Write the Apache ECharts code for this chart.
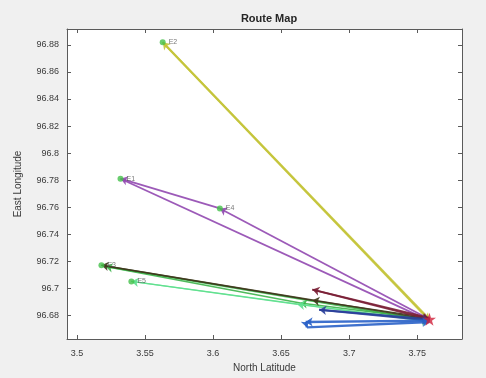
<!DOCTYPE html>
<html>
<head>
<meta charset="utf-8">
<script src="https://cdn.jsdelivr.net/npm/echarts@6/dist/echarts.min.js"></script>
<style>html,body{margin:0;padding:0;background:#f0f0f0;}#c{width:486px;height:378px;}</style>
</head>
<body>
<div id="c"></div>
<script>
// ---- data ----
const xTicks = [3.5, 3.55, 3.6, 3.65, 3.7, 3.75];
const xTickLabels = ['3.5', '3.55', '3.6', '3.65', '3.7', '3.75'];
const yTicks = [96.68, 96.7, 96.72, 96.74, 96.76, 96.78, 96.8, 96.82, 96.84, 96.86, 96.88];
const yTickLabels = ['96.68', '96.7', '96.72', '96.74', '96.76', '96.78', '96.8', '96.82', '96.84', '96.86', '96.88'];
const hub = [3.759, 96.677];
const routeYellow = [[3.759, 96.677], [3.563, 96.882], [3.759, 96.676]];
const routePurple = [[3.759, 96.677], [3.605, 96.759], [3.532, 96.781], [3.759, 96.676]];
const routeDark = [[3.759, 96.678], [3.673, 96.691], [3.518, 96.717], [3.759, 96.677]];
const routeGreen = [[3.759, 96.677], [3.664, 96.689], [3.521, 96.716], [3.759, 96.676]];
const routeLightGreen = [[3.759, 96.676], [3.662, 96.688], [3.540, 96.705], [3.759, 96.675]];
const routeMaroon = [[3.759, 96.678], [3.673, 96.699], [3.759, 96.677]];
const routeNavy = [[3.759, 96.677], [3.678, 96.684], [3.759, 96.676]];
const routeBlue = [[3.759, 96.676], [3.668, 96.675], [3.669, 96.671], [3.759, 96.675]];
const stopNames = ['E2', 'E4', 'E1', 'E3', 'E5'];
const stopPoints = [[3.563, 96.882], [3.605, 96.759], [3.532, 96.781], [3.518, 96.717], [3.540, 96.705]];

const xMin = 3.4927, xMax = 3.7829, yMin = 96.6624, yMax = 96.8918;

function segs(route) {
  const out = [];
  for (let i = 0; i < route.length - 1; i++) out.push({coords: [route[i], route[i + 1]]});
  return out;
}
function lineSeries(route, color, w) {
  return {
    type: 'lines', coordinateSystem: 'cartesian2d', xAxisIndex: 0, yAxisIndex: 0,
    symbol: ['none', 'arrow'], symbolSize: 7,
    lineStyle: {color: color, width: w || 1.5, opacity: 0.9, curveness: 0},
    data: segs(route), silent: true
  };
}
const starPath = 'path://M50,0 L61.8,35.4 L100,35.4 L69.1,57.3 L80.9,92.7 L50,70.8 L19.1,92.7 L30.9,57.3 L0,35.4 L38.2,35.4 Z';

const chart = echarts.init(document.getElementById('c'));
const axisCol = '#5a5a5a';
const labelCol = '#3a3a3a';
chart.setOption({
  backgroundColor: '#f0f0f0',
  animation: false,
  title: {
    text: 'Route Map', left: 264, top: 8, textAlign: 'center',
    textStyle: {fontFamily: 'Liberation Sans', fontSize: 11, fontWeight: 'bold', color: '#262626'}
  },
  grid: {left: 67, right: 24, top: 29, bottom: 37, show: true, backgroundColor: '#ffffff', borderWidth: 0},
  xAxis: [{
    type: 'value', min: xMin, max: xMax, position: 'bottom',
    name: 'North Latitude', nameLocation: 'middle', nameGap: 24,
    nameTextStyle: {fontFamily: 'Liberation Sans', fontSize: 10, color: labelCol},
    axisLine: {show: true, lineStyle: {color: axisCol}},
    axisTick: {show: true, inside: true, length: 4, customValues: xTicks, lineStyle: {color: axisCol}},
    axisLabel: {customValues: xTicks, margin: 10, fontFamily: 'Liberation Sans', fontSize: 9, color: labelCol,
      formatter: v => { const i = xTicks.findIndex(t => Math.abs(t - v) < 1e-6); return i >= 0 ? xTickLabels[i] : ''; }},
    splitLine: {show: false}
  }, {
    type: 'value', min: xMin, max: xMax, position: 'top',
    axisLine: {show: true, lineStyle: {color: axisCol}},
    axisTick: {show: true, inside: true, length: 4, customValues: xTicks, lineStyle: {color: axisCol}},
    axisLabel: {show: false}, splitLine: {show: false}
  }],
  yAxis: [{
    type: 'value', min: yMin, max: yMax, position: 'left',
    name: 'East Longitude', nameLocation: 'middle', nameGap: 44,
    nameTextStyle: {fontFamily: 'Liberation Sans', fontSize: 10, color: labelCol},
    axisLine: {show: true, lineStyle: {color: axisCol}},
    axisTick: {show: true, inside: true, length: 4, customValues: yTicks, lineStyle: {color: axisCol}},
    axisLabel: {customValues: yTicks, margin: 8, fontFamily: 'Liberation Sans', fontSize: 9, color: labelCol,
      formatter: v => { const i = yTicks.findIndex(t => Math.abs(t - v) < 1e-6); return i >= 0 ? yTickLabels[i] : ''; }},
    splitLine: {show: false}
  }, {
    type: 'value', min: yMin, max: yMax, position: 'right',
    axisLine: {show: true, lineStyle: {color: axisCol}},
    axisTick: {show: true, inside: true, length: 4, customValues: yTicks, lineStyle: {color: axisCol}},
    axisLabel: {show: false}, splitLine: {show: false}
  }],
  series: [
    lineSeries(routeYellow, '#c4c43a', 2),
    lineSeries(routePurple, '#9148b0', 1.8),
    lineSeries(routeGreen, '#3cb44a', 1.6),
    lineSeries(routeDark, '#3d3a1c', 1.4),
    lineSeries(routeLightGreen, '#5fe08e', 1.3),
    lineSeries(routeMaroon, '#7a1f35', 1.8),
    lineSeries(routeNavy, '#2a3f9a', 2),
    lineSeries(routeBlue, '#2a62c8', 2.4),
    {
      type: 'scatter', xAxisIndex: 0, yAxisIndex: 0, symbol: 'circle', symbolSize: 6,
      itemStyle: {color: '#44c04a'},
      label: {show: true, position: 'right', distance: 3, fontSize: 7, color: '#555',
        formatter: p => p.name},
      data: stopPoints.map((p, i) => ({name: stopNames[i], value: p})), silent: true
    },
    {
      type: 'scatter', xAxisIndex: 0, yAxisIndex: 0, symbol: starPath, symbolSize: 13,
      itemStyle: {color: '#d0203a'}, data: [hub], silent: true
    }
  ]
});
</script>
</body>
</html>
